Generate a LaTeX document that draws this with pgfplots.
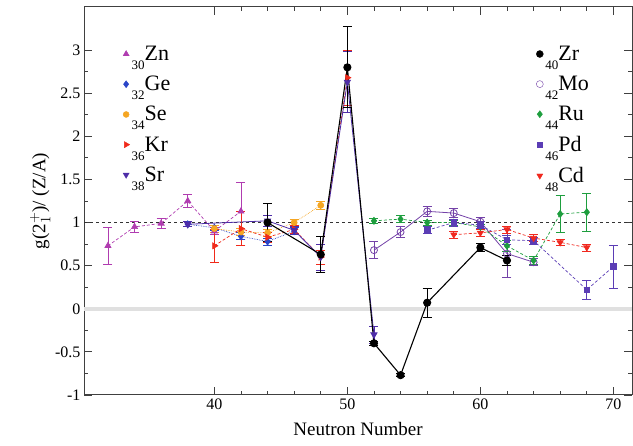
\documentclass[border=0pt]{standalone}
\usepackage{fontspec}
\setmainfont{Liberation Serif}
\usepackage{pgfplots}
\pgfplotsset{compat=1.18}

\definecolor{cZn}{HTML}{B03CB0}
\definecolor{cGe}{HTML}{2B45C8}
\definecolor{cSe}{HTML}{F5A623}
\definecolor{cKr}{HTML}{F02A1A}
\definecolor{cSr}{HTML}{4E2DA8}
\definecolor{cMo}{HTML}{7442A8}
\definecolor{cRu}{HTML}{1E9E3E}
\definecolor{cPd}{HTML}{5B3DB5}
\definecolor{cCd}{HTML}{F0281E}

\newcommand\iso[2]{\raisebox{-9pt}{\fontsize{13}{13}\selectfont #1}#2}

\pgfplotsset{
  base/.style={
    scale only axis, width=548pt, height=388pt,
    xmin=30.2, xmax=71.4, ymin=-1, ymax=3.5,
    xtick={40,50,60,70}, xticklabels={40,50,60,70},
    minor x tick num=4,
    ytick={-1,-0.5,0,0.5,1,1.5,2,2.5,3},
    yticklabels={-1,-0.5,0,0.5,1,1.5,2,2.5,3},
    minor y tick num=1,
    tick align=inside,
    major tick length=8pt, minor tick length=4pt,
    tick style={line width=0.8pt, color=black!75},
    axis line style={line width=1pt, color=black!75},
    ticklabel style={font=\fontsize{16}{16}\selectfont},
    legend cell align=left,
    legend style={draw=none, fill=none, font=\fontsize{22}{22}\selectfont,
      row sep=10.2pt, inner sep=0pt},
  },
  eb/.style={error bars/.cd, y dir=both, y explicit,
    error mark options={rotate=90, mark size=4.5pt, line width=0.8pt},
    error bar style={line width=0.8pt, solid}},
}

\begin{document}
\begin{tikzpicture}
\begin{axis}[base, name=ax,
  xlabel={Neutron Number},
  ylabel={g(2$^{+}_{1}$)/ (Z/A)},
  xlabel style={font=\fontsize{19}{19}\selectfont, yshift=-6pt},
  ylabel style={font=\fontsize{19}{19}\selectfont, yshift=-2pt},
  legend style={at={(rel axis cs:0.071,0.905)}, anchor=north west},
]
% reference lines
\addplot[forget plot, line width=3.5pt, color=black!12] coordinates {(30.2,0) (71.4,0)};
\addplot[forget plot, line width=1.1pt, dashed, color=black!80] coordinates {(30.2,1) (71.4,1)};

% Zn
\addplot[forget plot, cZn, densely dashed, line width=0.7pt, mark=triangle*, mark size=3.5pt, mark options={solid}, eb]
coordinates {(32,0.73) +- (0,0.21) (34,0.95) +- (0,0.06) (36,0.99) +- (0,0.06)
 (38,1.25) +- (0,0.08) (40,0.90) +- (0,0.04) (42,1.13) +- (0,0.33)};
% Ge
\addplot[forget plot, cGe, densely dotted, line width=0.7pt, mark=diamond*, mark size=3.5pt, mark options={solid}, eb]
coordinates {(38,0.98) +- (0,0.03) (40,0.94) +- (0,0.03) (42,0.84) +- (0,0.04)
 (44,0.78) +- (0,0.04) (46,0.90) +- (0,0.04)};
% Se
\addplot[forget plot, cSe, densely dotted, line width=0.7pt, mark=*, mark size=3pt, mark options={solid}, eb]
coordinates {(40,0.93) +- (0,0.04) (42,0.89) +- (0,0.04) (44,0.88) +- (0,0.04)
 (46,1.00) +- (0,0.04) (48,1.20) +- (0,0.05)};
% Kr
\addplot[forget plot, cKr, densely dashed, line width=0.7pt, mark=triangle*, mark size=3.5pt, mark options={solid, rotate=-90}, eb]
coordinates {(40,0.73) +- (0,0.19) (42,0.93) +- (0,0.20) (44,0.83) +- (0,0.06)
 (46,0.92) +- (0,0.05) (48,0.60) +- (0,0.08) (50,2.68) +- (0,0.32)};
% Sr
\addplot[forget plot, cSr, line width=0.8pt, mark=triangle*, mark size=3.5pt, mark options={rotate=180}, eb]
coordinates {(38,0.98) +- (0,0.03) (44,1.02) +- (0,0.06) (46,0.91) +- (0,0.05)
 (48,0.60) +- (0,0.15) (50,2.63) +- (0,0.35) (52,-0.30) +- (0,0.10)};
% Mo
\addplot[forget plot, cMo, line width=0.8pt, mark=o, mark size=3.5pt, eb]
coordinates {(52,0.68) +- (0,0.10) (54,0.89) +- (0,0.06) (56,1.13) +- (0,0.06)
 (58,1.11) +- (0,0.05) (60,1.01) +- (0,0.05) (62,0.64) +- (0,0.28) (64,0.54) +- (0,0.04)};
% Ru
\addplot[forget plot, cRu, densely dashed, line width=0.7pt, mark=diamond*, mark size=3.5pt, mark options={solid}, eb]
coordinates {(52,1.02) +- (0,0.03) (54,1.04) +- (0,0.04) (56,1.00) +- (0,0.03)
 (58,1.00) +- (0,0.03) (60,0.95) +- (0,0.03) (62,0.73) +- (0,0.06)
 (64,0.56) +- (0,0.05) (66,1.10) +- (0,0.21) (68,1.12) +- (0,0.22)};
% Pd
\addplot[forget plot, cPd, densely dashed, line width=0.7pt, mark=square*, mark size=2.8pt, mark options={solid}, eb]
coordinates {(56,0.91) +- (0,0.04) (58,1.00) +- (0,0.04) (60,0.97) +- (0,0.04)
 (62,0.80) +- (0,0.05) (64,0.79) +- (0,0.04) (68,0.22) +- (0,0.11) (70,0.49) +- (0,0.25)};
% Cd
\addplot[forget plot, cCd, densely dashed, line width=0.7pt, mark=triangle*, mark size=3.5pt, mark options={solid, rotate=180}, eb]
coordinates {(58,0.86) +- (0,0.04) (60,0.88) +- (0,0.04) (62,0.92) +- (0,0.04)
 (64,0.82) +- (0,0.04) (66,0.77) +- (0,0.04) (68,0.71) +- (0,0.04)};
% Zr
\addplot[forget plot, black, line width=1.1pt, mark=*, mark size=3.5pt, eb]
coordinates {(44,1.00) +- (0,0.22) (48,0.63) +- (0,0.21) (50,2.80) +- (0,0.47)
 (52,-0.40) +- (0,0.02) (54,-0.77) +- (0,0.02) (56,0.07) +- (0,0.17)
 (60,0.71) +- (0,0.05) (62,0.56) +- (0,0.06)};

\addlegendimage{only marks, cZn, mark=triangle*, mark size=3.5pt}
\addlegendentry{\iso{30}{Zn}}
\addlegendimage{only marks, cGe, mark=diamond*, mark size=3.5pt}
\addlegendentry{\iso{32}{Ge}}
\addlegendimage{only marks, cSe, mark=*, mark size=3pt}
\addlegendentry{\iso{34}{Se}}
\addlegendimage{only marks, cKr, mark=triangle*, mark size=3.5pt, mark options={rotate=-90}}
\addlegendentry{\iso{36}{Kr}}
\addlegendimage{only marks, cSr, mark=triangle*, mark size=3.5pt, mark options={rotate=180}}
\addlegendentry{\iso{38}{Sr}}
\end{axis}

\begin{axis}[base, hide axis,
  legend style={at={(rel axis cs:0.825,0.905)}, anchor=north west},
]
\addlegendimage{only marks, black, mark=*, mark size=3.5pt}
\addlegendentry{\iso{40}{Zr}}
\addlegendimage{only marks, cMo, mark=o, mark size=3.5pt}
\addlegendentry{\iso{42}{Mo}}
\addlegendimage{only marks, cRu, mark=diamond*, mark size=3.5pt}
\addlegendentry{\iso{44}{Ru}}
\addlegendimage{only marks, cPd, mark=square*, mark size=2.8pt}
\addlegendentry{\iso{46}{Pd}}
\addlegendimage{only marks, cCd, mark=triangle*, mark size=3.5pt, mark options={rotate=180}}
\addlegendentry{\iso{48}{Cd}}
\end{axis}

\pgfresetboundingbox
\path ([shift={(-84pt,-51pt)}]ax.south west) rectangle ([shift={(1pt,7pt)}]ax.north east);
\end{tikzpicture}
\end{document}
